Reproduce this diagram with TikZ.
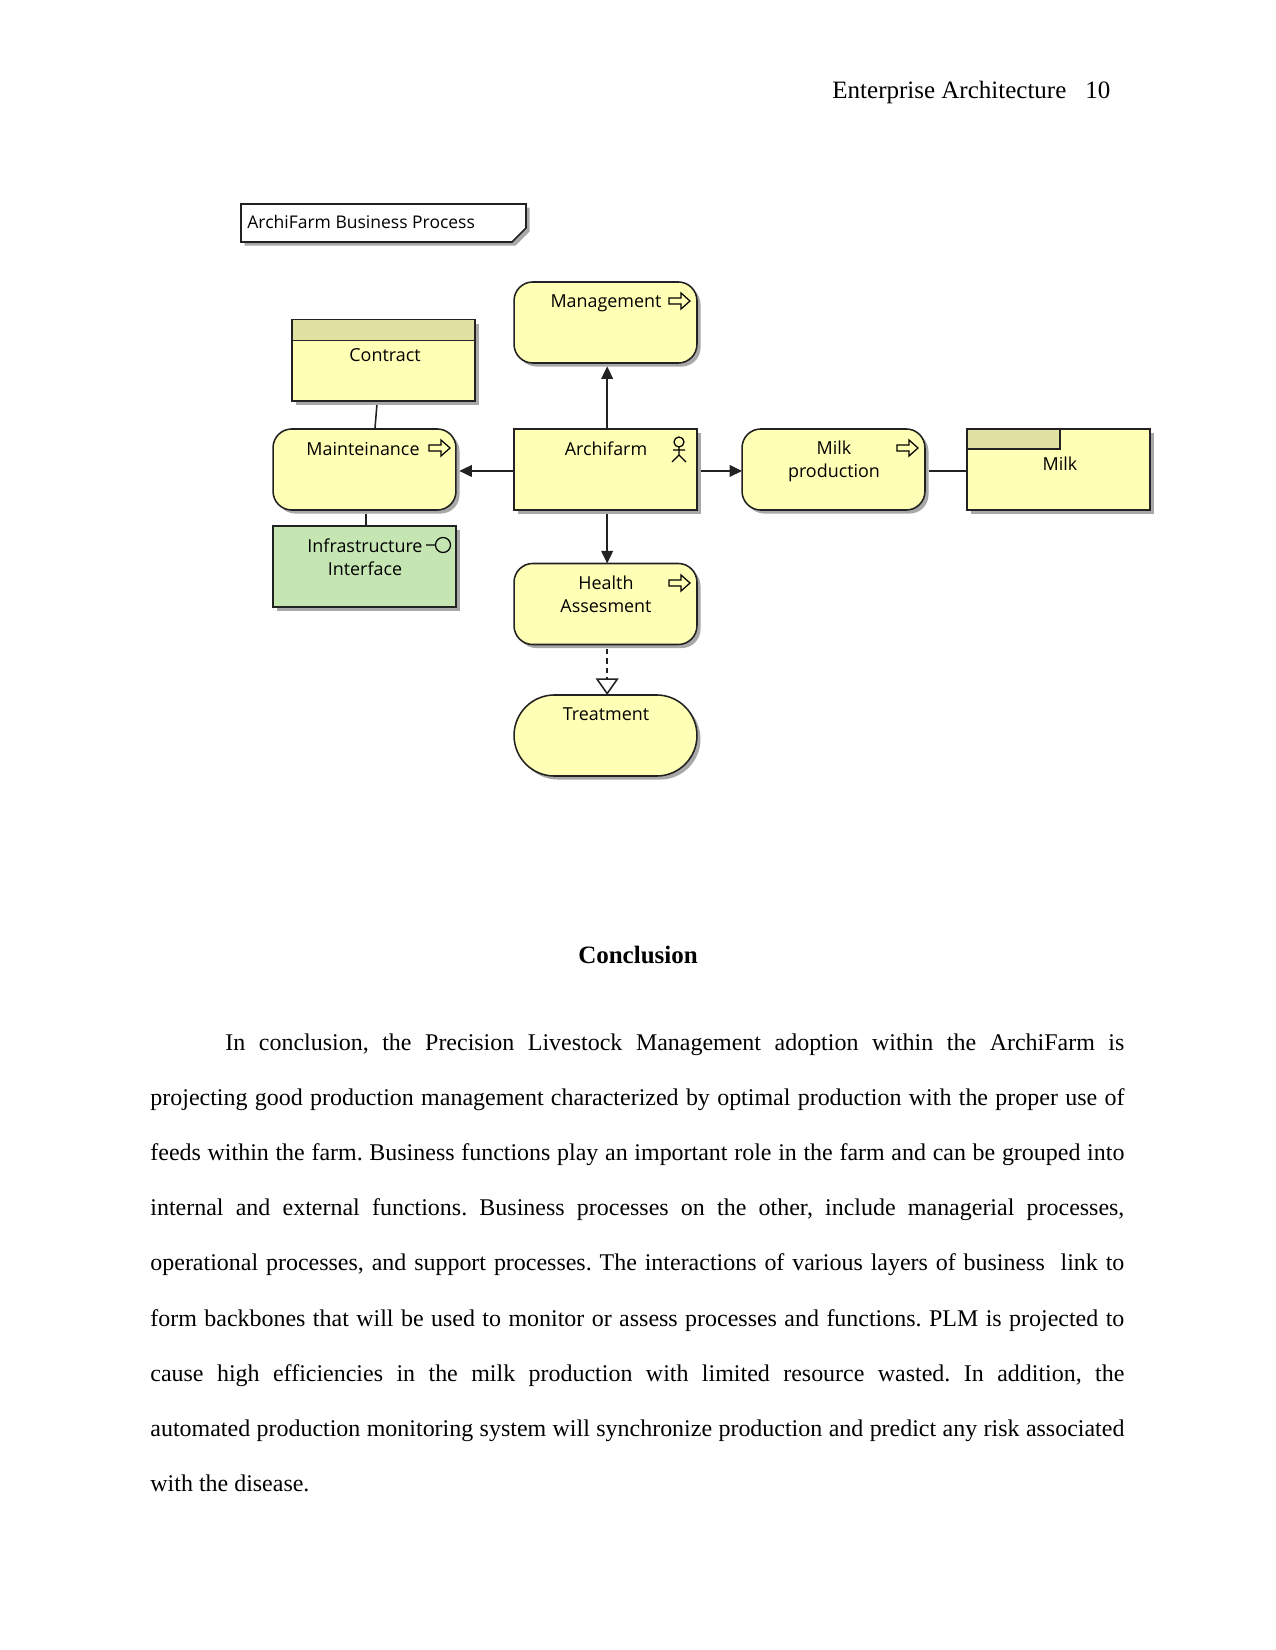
\documentclass[tikz,border=0pt]{standalone}
\usepackage{fontspec}
\setmainfont{Liberation Serif}
\newfontfamily\boxfont{Open Sans}
\usetikzlibrary{arrows.meta,shadows}

\definecolor{boxyellow}{HTML}{FFFFB5}
\definecolor{headyellow}{HTML}{E0E2A2}
\definecolor{boxgreen}{HTML}{C5E6B3}
\definecolor{shadowgray}{HTML}{A8A8A8}
\definecolor{boxline}{HTML}{222222}

\newcommand{\bodyline}[1]{\hbox to 467.5pt{\spaceskip=.25em plus .4em minus .12em\relax #1}}

\tikzset{
    x=0.48pt, y=-0.48pt,
    boxshadow/.style={general shadow={shadow xshift=1.7pt,shadow yshift=-1.7pt,fill=shadowgray}},
    plainbox/.style={draw=boxline,line width=0.75pt,fill=boxyellow,boxshadow,minimum width=87.8pt,minimum height=38.9pt,inner sep=0pt,outer sep=0pt},
    procbox/.style={plainbox,rounded corners=9pt},
    eventbox/.style={plainbox,rounded corners=19.4pt},
    ifacebox/.style={plainbox,fill=boxgreen},
    headbox/.style={draw=boxline,line width=0.75pt,fill=headyellow,inner sep=0pt,outer sep=0pt},
    boxtext/.style={font=\boxfont\fontsize{8.6}{11.1}\selectfont,text=black,inner sep=0pt,align=center},
    pagetext/.style={font=\fontsize{12}{14}\selectfont,inner sep=0pt,anchor=base},
    link/.style={draw=boxline,line width=0.75pt},
    flow/.style={link,-{Triangle[length=6pt,width=5.6pt]}},
    realize/.style={link,dash pattern=on 2.6pt off 2pt,-{Triangle[open,length=8pt,width=11pt,fill=white]}},
    procarrow/.pic={
        \draw[line width=0.6pt,fill=boxyellow] (0,-3) -- (12,-3) -- (12,-8) -- (21,0) -- (12,8) -- (12,3) -- (0,3) -- cycle;
    },
    actor/.pic={
        \draw[line width=0.6pt] (0,0) circle (5);
        \draw[line width=0.6pt] (0,5) -- (0,13) (-6,8) -- (6,8) (-7,20) -- (0,13) -- (7,20);
    },
    ifacemark/.pic={
        \draw[line width=0.6pt] (0,0) circle (7.5) (-17,0) -- (-7.5,0);
    }
}

\begin{document}
\begin{tikzpicture}
    \useasboundingbox (0,0) rectangle (1275,1650);

    \node[pagetext,anchor=base west] (runhead) at (832,99) {Enterprise Architecture};
    \node[pagetext,anchor=base west] (pagenum) at (1085,99) {10};

    % title tag
    \draw[draw=boxline,line width=0.75pt,fill=white,boxshadow] (241,204) -- (526,204) -- (526,228) -- (512,242) -- (241,242) -- cycle;
    \node[boxtext,font=\boxfont\fontsize{8.4}{10}\selectfont,anchor=west] (title) at (247,222) {ArchiFarm Business Process};

    % boxes
    \node[procbox] (mgmt) at (605.5,322.5) {};
    \node[plainbox] (contract) at (383.5,360.5) {};
    \node[headbox,minimum width=87.8pt,minimum height=9.9pt] (contracthead) at (383.5,330) {};
    \node[procbox] (maint) at (364.5,469.5) {};
    \node[plainbox] (archi) at (605.5,469.5) {};
    \node[procbox] (prod) at (833.5,469.5) {};
    \node[plainbox] (milk) at (1058.5,469.5) {};
    \node[headbox,minimum width=44.6pt,minimum height=9.6pt] (milkhead) at (1013.5,439) {};
    \node[ifacebox] (infra) at (364.5,566.5) {};
    \node[procbox] (health) at (605.5,604) {};
    \node[eventbox] (treat) at (605.5,735.5) {};

    % labels
    \node[boxtext] (mgmtlabel) at (606,303) {Management};
    \node[boxtext] (contractlabel) at (385,355) {Contract};
    \node[boxtext] (maintlabel) at (363,449) {Mainteinance};
    \node[boxtext] (archilabel) at (606,449) {Archifarm};
    \node[boxtext] (prodlabel) at (834,461) {Milk\\production};
    \node[boxtext] (milklabel) at (1060,464) {Milk};
    \node[boxtext] (infralabel) at (365,557) {Infrastructure\\Interface};
    \node[boxtext] (healthlabel) at (606,594) {Health\\Assesment};
    \node[boxtext] (treatlabel) at (606,714) {Treatment};

    % icons
    \pic at (669,301) {procarrow};
    \pic at (429,448) {procarrow};
    \pic at (897,448) {procarrow};
    \pic at (669,583) {procarrow};
    \pic at (679,442) {actor};
    \pic at (443,545) {ifacemark};

    % connectors
    \draw[flow,shorten >=1.6pt] ([xshift=0.8pt]archi.north) -- ([xshift=0.8pt]mgmt.south);
    \draw[flow,shorten >=1.6pt] ([yshift=-0.7pt]archi.west) -- ([yshift=-0.7pt]maint.east);
    \draw[flow,shorten <=2pt] ([yshift=-0.7pt]archi.east) -- ([yshift=-0.7pt]prod.west);
    \draw[flow,shorten <=2pt] ([xshift=0.8pt]archi.south) -- ([xshift=0.8pt]health.north);
    \draw[realize,shorten <=2pt] ([xshift=0.8pt]health.south) -- ([xshift=0.8pt]treat.north);
    \draw[link,shorten <=2pt] ([yshift=-0.7pt]prod.east) -- ([yshift=-0.7pt]milk.west);
    \draw[link,shorten <=2pt] ([xshift=-3pt]contract.south) -- ([xshift=5pt]maint.north);
    \draw[link,shorten <=2pt] ([xshift=0.8pt]maint.south) -- ([xshift=0.8pt]infra.north);

    % page text
    \node[pagetext,font=\fontsize{12}{14}\selectfont\bfseries] (concl) at (638,963) {Conclusion};
    \node[font=\fontsize{11.5}{26.5}\selectfont,text width=467.5pt,align=left,inner sep=0pt,anchor=north west] (body) at (150,1033) {%
        \frenchspacing
        \bodyline{\hspace*{36pt}In conclusion, the Precision Livestock Management adoption within the ArchiFarm is}
        \bodyline{projecting good production management characterized by optimal production with the proper use of}
        \bodyline{feeds within the farm. Business functions play an important role in the farm and can be grouped into}
        \bodyline{internal and external functions. Business processes on the other, include managerial processes,}
        \bodyline{operational processes, and support processes. The interactions of various layers of business\ \ link to}
        \bodyline{form backbones that will be used to monitor or assess processes and functions. PLM is projected to}
        \bodyline{cause high efficiencies in the milk production with limited resource wasted. In addition, the}
        \bodyline{automated production monitoring system will synchronize production and predict any risk associated}
        \bodyline{with the disease.\hfil}};
\end{tikzpicture}
\end{document}
